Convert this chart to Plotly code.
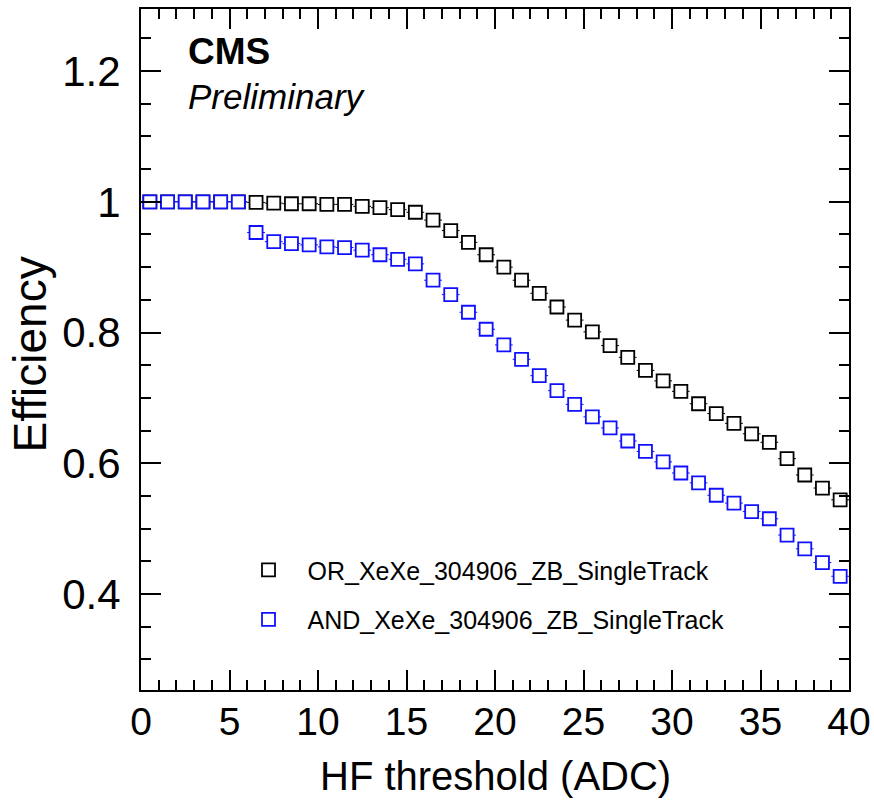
import plotly.graph_objects as go

threshold = [0.5, 1.5, 2.5, 3.5, 4.5, 5.5, 6.5, 7.5, 8.5, 9.5,
             10.5, 11.5, 12.5, 13.5, 14.5, 15.5, 16.5, 17.5, 18.5, 19.5,
             20.5, 21.5, 22.5, 23.5, 24.5, 25.5, 26.5, 27.5, 28.5, 29.5,
             30.5, 31.5, 32.5, 33.5, 34.5, 35.5, 36.5, 37.5, 38.5, 39.5]
bin_half_width = [0.5] * len(threshold)

eff_or = [1.0, 1.0, 1.0, 1.0, 1.0, 1.0, 0.999, 0.998, 0.997, 0.997,
          0.996, 0.996, 0.993, 0.991, 0.988, 0.984, 0.972, 0.956, 0.938, 0.919,
          0.900, 0.880, 0.860, 0.839, 0.819, 0.801, 0.780, 0.762, 0.742, 0.726,
          0.710, 0.691, 0.676, 0.661, 0.645, 0.632, 0.607, 0.582, 0.562, 0.544]

eff_and = [1.0, 1.0, 1.0, 1.0, 1.0, 1.0, 0.953, 0.939, 0.936, 0.934,
           0.931, 0.930, 0.926, 0.919, 0.912, 0.905, 0.880, 0.858, 0.831, 0.805,
           0.781, 0.759, 0.734, 0.711, 0.690, 0.671, 0.654, 0.634, 0.618, 0.602,
           0.585, 0.570, 0.551, 0.539, 0.526, 0.515, 0.490, 0.469, 0.448, 0.427]

names = ["OR_XeXe_304906_ZB_SingleTrack", "AND_XeXe_304906_ZB_SingleTrack"]
colors = ["#000000", "#1010ff"]

FONT = "Liberation Sans, Arial, sans-serif"

fig = go.Figure()
for yvals, name, col, grp in [(eff_or, names[0], colors[0], "a"), (eff_and, names[1], colors[1], "b")]:
    fig.add_trace(go.Scatter(
        x=threshold, y=yvals, mode="markers", name=name, legendgroup=grp,
        marker=dict(symbol="square", size=13, color="white",
                    line=dict(color=col, width=1.8)),
        error_x=dict(type="data", array=bin_half_width, color=col, thickness=1, width=0),
    ))

fig.update_layout(
    width=874, height=801,
    margin=dict(l=141, r=25, t=9, b=111, autoexpand=False),
    paper_bgcolor="white", plot_bgcolor="white",
    font=dict(family=FONT, color="black"),
    showlegend=True,
    legend=dict(x=0.125, y=0.14, xanchor="left", yanchor="middle",
                font=dict(size=25, family=FONT), bgcolor="rgba(0,0,0,0)",
                tracegroupgap=14, itemwidth=68),
)

fig.update_xaxes(
    range=[0, 40], showgrid=False, zeroline=False, automargin=False,
    showline=True, linecolor="black", linewidth=2, mirror="allticks",
    ticks="inside", ticklen=20, tickwidth=1.5, tickcolor="black",
    dtick=5, tick0=0,
    minor=dict(ticks="inside", ticklen=10, tickwidth=1.5, tickcolor="black", dtick=1, showgrid=False),
    tickfont=dict(size=39, family=FONT), ticklabelstandoff=-4,
)
fig.update_yaxes(
    range=[0.253, 1.295], showgrid=False, zeroline=False, automargin=False,
    showline=True, linecolor="black", linewidth=2, mirror="allticks",
    ticks="inside", ticklen=20, tickwidth=1.5, tickcolor="black",
    dtick=0.2, tick0=0,
    minor=dict(ticks="inside", ticklen=10, tickwidth=1.5, tickcolor="black", dtick=0.05, showgrid=False),
    tickfont=dict(size=42, family=FONT), ticklabelstandoff=10,
)

fig.add_annotation(text="HF threshold (ADC)", xref="paper", yref="paper",
                   x=0.5, y=-0.1265, xanchor="center", yanchor="middle",
                   showarrow=False, font=dict(size=40, family=FONT))
fig.add_annotation(text="Efficiency", xref="paper", yref="paper",
                   x=-0.157, y=0.4926, xanchor="center", yanchor="middle", textangle=-90,
                   showarrow=False, font=dict(size=46, family=FONT))
fig.add_annotation(text="<b>CMS</b>", xref="paper", yref="paper",
                   x=0.064, y=0.938, xanchor="left", yanchor="middle",
                   showarrow=False, font=dict(size=37, family=FONT))
fig.add_annotation(text="<i>Preliminary</i>", xref="paper", yref="paper",
                   x=0.064, y=0.872, xanchor="left", yanchor="middle",
                   showarrow=False, font=dict(size=35, family=FONT))

fig.write_html("out.html")
